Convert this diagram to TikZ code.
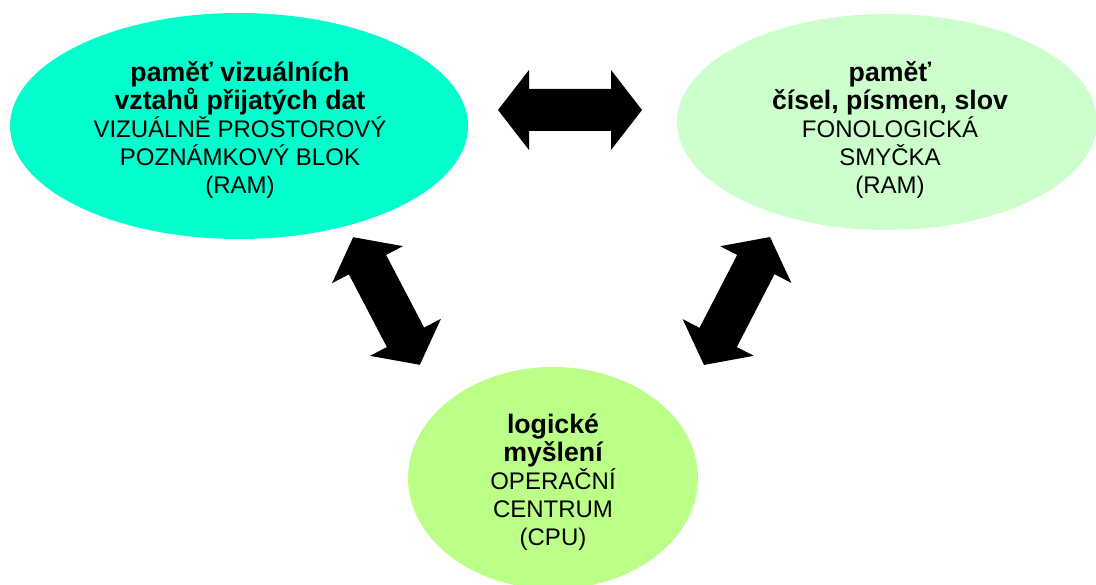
\documentclass[tikz,border=0pt]{standalone}
\usepackage{fontspec}
\setmainfont{Liberation Sans}
\usepackage{tikz}
\usetikzlibrary{shapes.geometric}
\definecolor{tyrkysova}{HTML}{00FFCC}
\definecolor{svetlezelena}{HTML}{CCFFCC}
\definecolor{zlutozelena}{HTML}{BBFF88}
\newcommand{\nadpis}[1]{{\fontsize{26.7}{30}\selectfont\bfseries #1}}

\begin{document}
\begin{tikzpicture}
			[x=1pt, y=-1pt, oval/.style ={ellipse, draw=none, inner sep=0pt}, popis/.style ={align=center, inner sep=0pt, font=\fontsize{24}{28}\selectfont},
			dvojsipka/.pic ={\fill (-72,0) -- (-41,40) -- (-41,21) -- (41,21) -- (41,40) -- (72,0) -- (41,-40) -- (41,-21) -- (-41,-21) -- (-41,-40) -- cycle;}];
			\useasboundingbox (0,0) rectangle (1096,585);
			\clip (0,0) rectangle (1096,585);
			% pameti a centrum
			\node [oval, fill=tyrkysova, minimum width=458, minimum height=226] (vizualni) at (239,126) {};
			\node [oval, fill=svetlezelena, minimum width=420, minimum height=216] (fonologicka) at (887,122) {};
			\node [oval, fill=zlutozelena, minimum width=290, minimum height=222] (operacni) at (553,478) {};
			\node [popis] (vizualnitext) at (240,130) {\nadpis{paměť vizuálních}\\ \nadpis{vztahů přijatých dat}\\ VIZUÁLNĚ PROSTOROVÝ\\ POZNÁMKOVÝ BLOK\\ (RAM)};
			\node [popis] (fonologickatext) at (890,130) {\nadpis{paměť}\\ \nadpis{čísel, písmen, slov}\\ FONOLOGICKÁ\\ SMYČKA\\ (RAM)};
			\node [popis] (operacnitext) at (553,482) {\nadpis{logické}\\ \nadpis{myšlení}\\ OPERAČNÍ\\ CENTRUM\\ (CPU)};
			% sipky
			\coordinate (vizfon) at (570,110);
			\coordinate (vizop) at (386.5,301);
			\coordinate (fonop) at (737,301);
			\pic at (vizfon) {dvojsipka};
			\pic [rotate=-62.4] at (vizop) {dvojsipka};
			\pic [rotate=62.7] at (fonop) {dvojsipka};
		\end{tikzpicture}
\end{document}
